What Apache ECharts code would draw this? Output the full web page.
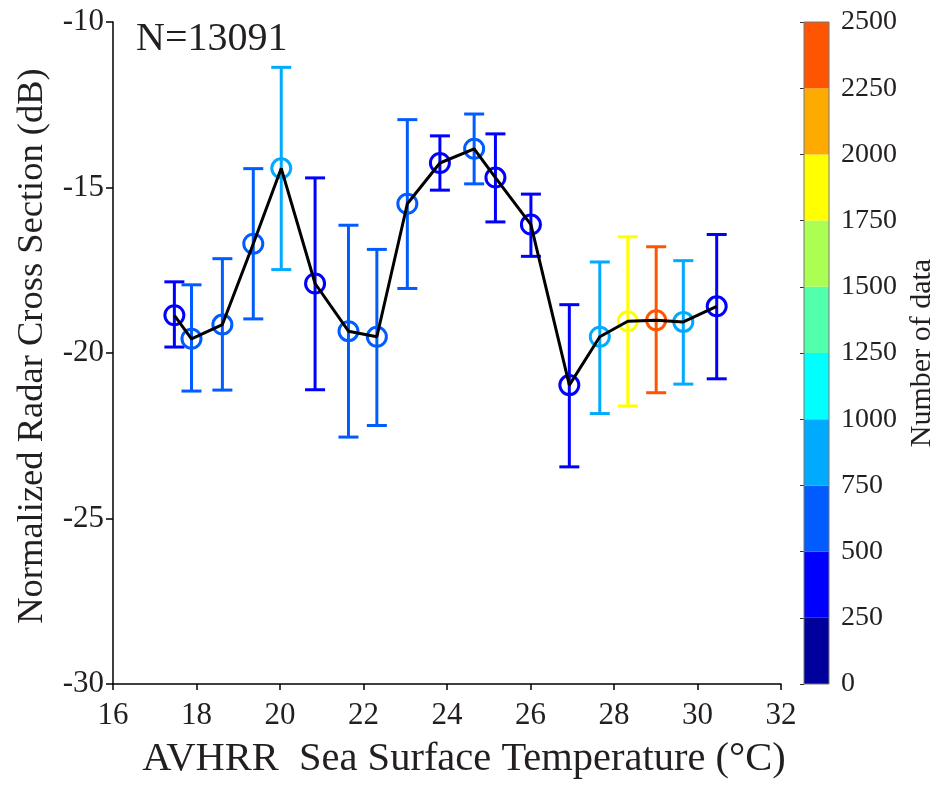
<!DOCTYPE html>
<html lang="en">

<head>
    <meta charset="UTF-8">
    <title>NRCS-SST</title>
    <script src="https://cdnjs.cloudflare.com/ajax/libs/echarts/6.0.0/echarts.min.js"></script>
    <style>
        body { margin: 0; background: #fff; }
    </style>
</head>

<body>
    <div id="main" style="width: 938px;height:785px;"></div>

    <script>
        // SST bin centres (°C) and NRCS statistics (dB)
        var sst = [17.47, 17.88, 18.62, 19.36, 20.03, 20.84, 21.64, 22.32, 23.05, 23.83,
            24.65, 25.16, 26.01, 26.93, 27.66, 28.33, 29.01, 29.66, 30.46];
        var nrcsMean = [-18.86, -19.57, -19.14, -16.70, -14.42, -17.90, -19.34, -19.51, -15.49, -14.26,
            -13.83, -14.70, -16.12, -20.97, -19.51, -19.04, -19.01, -19.06, -18.59];
        var nrcsUpper = [-17.85, -17.94, -17.15, -14.43, -11.37, -14.71, -16.14, -16.87, -12.95, -13.44,
            -12.78, -13.38, -15.20, -18.54, -17.25, -16.49, -16.79, -17.21, -16.42];
        var nrcsLower = [-19.82, -21.15, -21.12, -18.97, -17.48, -21.11, -22.54, -22.19, -18.05, -15.08,
            -14.89, -16.04, -17.08, -23.44, -21.83, -21.60, -21.20, -20.94, -20.78];
        // number of samples in each bin (estimated from the colour)
        var counts = [330, 560, 600, 540, 860, 300, 590, 560, 560, 380,
            621, 420, 450, 360, 810, 1800, 2260, 800, 290];

        // colour bar levels
        var levels = [0, 250, 500, 750, 1000, 1250, 1500, 1750, 2000, 2250, 2500];
        var levelColors = ['#00009c', '#0000ff', '#005cff', '#00aaff', '#00ffff',
            '#52ffaa', '#aaff52', '#ffff00', '#ffaa00', '#ff5500'];

        var xTicks = { min: 16, max: 32, step: 2 };
        var yTicks = { min: -30, max: -10, step: 5 };

        var font = 'Liberation Serif';
        var txt = '#231f20';

        var pointData = sst.map(function (x, i) {
            return [x, nrcsMean[i], nrcsUpper[i], nrcsLower[i], counts[i]];
        });
        var lineData = sst.map(function (x, i) { return [x, nrcsMean[i]]; });
        var barData = levelColors.map(function (c, i) { return [i, levels[i], levels[i + 1]]; });

        var pieces = levelColors.map(function (c, i) {
            return { gte: levels[i], lt: levels[i + 1], color: c };
        });

        var chart1 = echarts.init(document.getElementById('main'));

        var option = {
            animation: false,
            title: {
                text: 'N=13091',
                left: 131,
                top: 14,
                textStyle: { fontFamily: font, fontSize: 40, fontWeight: 'normal', color: txt }
            },
            grid: [
                { left: 113, top: 22, width: 668, height: 662 },
                { left: 804, top: 22, width: 29, height: 662 }
            ],
            visualMap: {
                type: 'piecewise',
                show: false,
                seriesIndex: 0,
                dimension: 4,
                pieces: pieces
            },
            xAxis: [
                {
                    type: 'value', gridIndex: 0,
                    min: xTicks.min, max: xTicks.max, interval: xTicks.step,
                    name: 'AVHRR  Sea Surface Temperature (°C)',
                    nameLocation: 'middle', nameGap: 55,
                    nameTextStyle: { fontFamily: font, fontSize: 40.5, color: txt, padding: [0, 0, 0, 34] },
                    axisLine: { lineStyle: { color: '#000', width: 1.5 } },
                    axisTick: { length: 6, lineStyle: { color: '#000', width: 1.5 } },
                    axisLabel: { fontFamily: font, fontSize: 31, color: txt, margin: 16 },
                    splitLine: { show: false }
                },
                {
                    type: 'value', gridIndex: 1, min: 0, max: 1, show: false
                }
            ],
            yAxis: [
                {
                    type: 'value', gridIndex: 0,
                    min: yTicks.min, max: yTicks.max, interval: yTicks.step,
                    name: 'Normalized Radar Cross Section (dB)',
                    nameLocation: 'middle', nameGap: 62,
                    nameTextStyle: { fontFamily: font, fontSize: 36.5, color: txt, padding: [0, 0, 0, 14] },
                    axisLine: { show: true, lineStyle: { color: '#000', width: 1.5 } },
                    axisTick: { show: true, length: 7, lineStyle: { color: '#000', width: 1.5 } },
                    axisLabel: { fontFamily: font, fontSize: 31, color: txt, margin: 9 },
                    splitLine: { show: false }
                },
                {
                    type: 'value', gridIndex: 1, position: 'right',
                    min: levels[0], max: levels[levels.length - 1], interval: 250,
                    name: 'Number of data',
                    nameLocation: 'middle', nameGap: 78, nameRotate: 90,
                    nameTextStyle: { fontFamily: font, fontSize: 30, color: txt },
                    axisLine: { show: false },
                    axisTick: { show: true, inside: true, length: 4, lineStyle: { color: '#333', width: 1 } },
                    axisLabel: {
                        fontFamily: font, fontSize: 28, color: txt, margin: 12,
                        formatter: function (v) { return String(v); }
                    },
                    splitLine: { show: false }
                }
            ],
            series: [
                {
                    type: 'custom',
                    xAxisIndex: 0, yAxisIndex: 0,
                    data: pointData,
                    z: 3,
                    renderItem: function (params, api) {
                        var x = api.value(0);
                        var c = api.coord([x, api.value(1)]);
                        var hi = api.coord([x, api.value(2)]);
                        var lo = api.coord([x, api.value(3)]);
                        var color = api.visual('color');
                        var cap = 10;
                        var st = { stroke: color, lineWidth: 3, fill: null };
                        return {
                            type: 'group',
                            children: [
                                { type: 'line', shape: { x1: c[0], y1: hi[1], x2: c[0], y2: lo[1] }, style: st },
                                { type: 'line', shape: { x1: c[0] - cap, y1: hi[1], x2: c[0] + cap, y2: hi[1] }, style: st },
                                { type: 'line', shape: { x1: c[0] - cap, y1: lo[1], x2: c[0] + cap, y2: lo[1] }, style: st },
                                { type: 'circle', shape: { cx: c[0], cy: c[1], r: 9.5 }, style: { stroke: color, lineWidth: 3, fill: 'none' } }
                            ]
                        };
                    }
                },
                {
                    type: 'line',
                    xAxisIndex: 0, yAxisIndex: 0,
                    data: lineData,
                    symbol: 'none',
                    z: 5,
                    lineStyle: { color: '#000', width: 3 }
                },
                {
                    type: 'custom',
                    xAxisIndex: 1, yAxisIndex: 1,
                    data: barData,
                    renderItem: function (params, api) {
                        var i = api.value(0);
                        var p1 = api.coord([0, api.value(2)]);
                        var p2 = api.coord([1, api.value(1)]);
                        var kids = [{
                            type: 'rect',
                            shape: { x: p1[0], y: p1[1], width: p2[0] - p1[0], height: p2[1] - p1[1] },
                            style: { fill: levelColors[i], stroke: null }
                        }];
                        if (i === levelColors.length - 1) {
                            var t = api.coord([0, levels[levels.length - 1]]);
                            var b = api.coord([1, levels[0]]);
                            kids.push({
                                type: 'rect', z2: 10,
                                shape: { x: t[0], y: t[1], width: b[0] - t[0], height: b[1] - t[1] },
                                style: { fill: 'none', stroke: '#777', lineWidth: 1 }
                            });
                        }
                        return { type: 'group', children: kids };
                    }
                }
            ]
        };

        chart1.setOption(option);
    </script>
</body>

</html>
